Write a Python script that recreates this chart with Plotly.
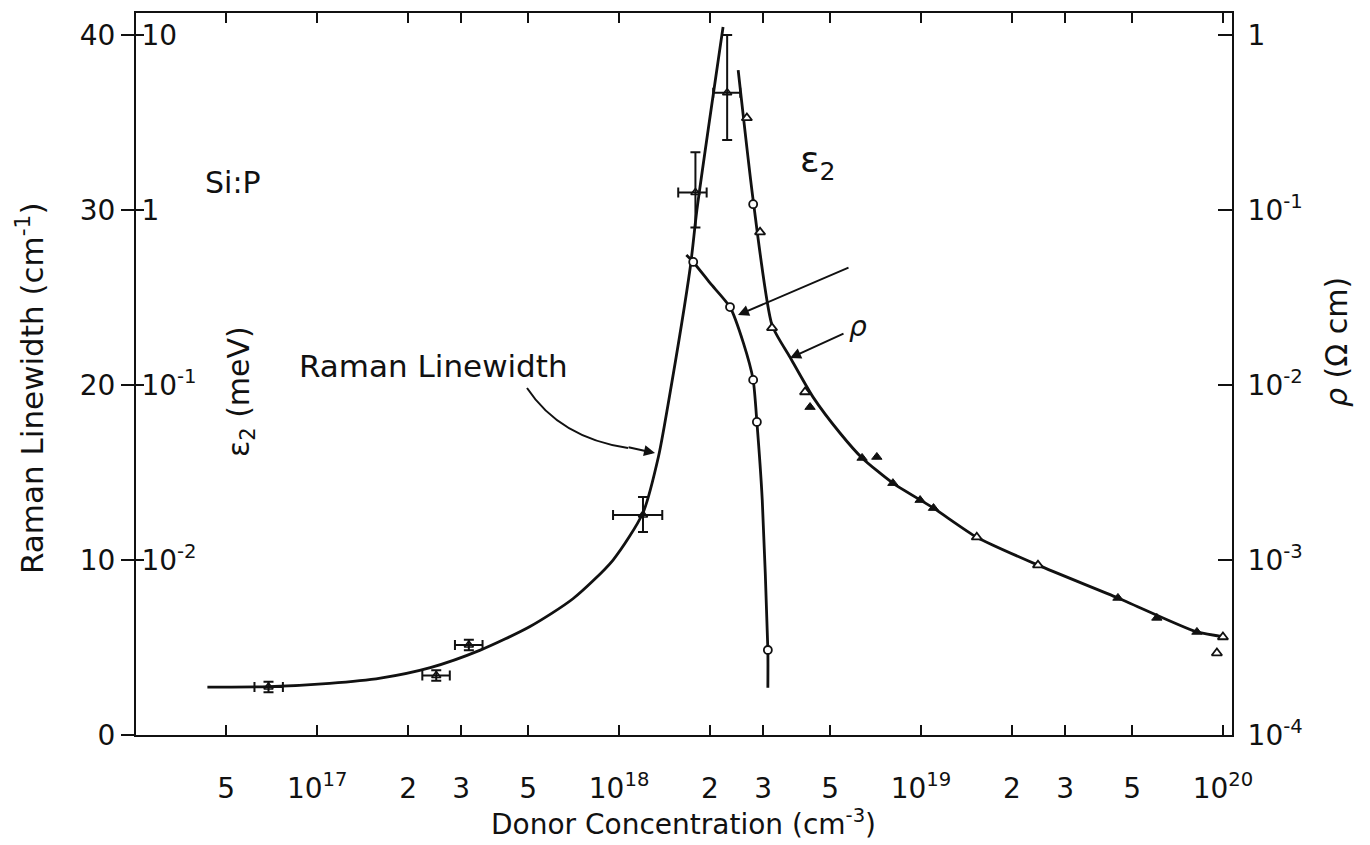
import plotly.graph_objects as go

# ---------------- data ----------------
# Raman linewidth measurements (cm^-1) with error bars
raman_conc = [6.9e16, 2.48e17, 3.18e17, 1.2e18, 1.79e18, 2.28e18]
raman_width = [2.74, 3.4, 5.14, 12.57, 31.0, 36.7]
raman_conc_lo = [6.2e16, 2.23e17, 2.86e17, 9.55e17, 1.57e18, 2.05e18]
raman_conc_hi = [7.7e16, 2.75e17, 3.53e17, 1.39e18, 1.95e18, 2.52e18]
raman_width_lo = [2.45, 3.1, 4.85, 11.6, 29.0, 34.0]
raman_width_hi = [3.05, 3.7, 5.45, 13.6, 33.3, 40.0]

# Raman linewidth guide curve
raman_curve_conc = [4.33e16, 6.89e16, 1.10e17, 1.62e17, 2.37e17, 3.47e17, 5.07e17,
                    7.05e17, 9.55e17, 1.2e18, 1.35e18, 1.45e18, 1.72e18, 1.81e18, 2.21e18]
raman_curve_width = [2.74, 2.76, 2.95, 3.25, 3.85, 4.85, 6.2,
                     7.8, 10.0, 12.7, 15.9, 18.8, 26.7, 30.0, 40.46]

# epsilon_2 (meV)
eps_conc = [1.76e18, 2.33e18, 2.78e18, 2.86e18, 3.11e18]
eps_val = [0.505, 0.279, 0.107, 0.0615, 0.00306]
eps_curve_conc = [1.67e18, 1.76e18, 2.0e18, 2.33e18, 2.58e18, 2.78e18, 2.86e18,
                  2.98e18, 3.11e18, 3.11e18]
eps_curve_val = [0.553, 0.505, 0.383, 0.279, 0.174, 0.107, 0.0615,
                 0.022, 0.00306, 0.00186]

# resistivity rho (Ohm cm)
rho_open_conc = [2.65e18, 2.93e18, 3.21e18, 4.13e18, 1.53e19, 2.44e19, 1.0e20, 9.55e19]
rho_open_val = [0.336, 0.0748, 0.0212, 0.00912, 0.00135, 0.000935, 0.000363, 0.000294]
rho_fill_conc = [4.29e18, 6.38e18, 7.14e18, 8.07e18, 9.93e18, 1.10e19, 4.49e19, 6.04e19, 8.2e19]
rho_fill_val = [0.00748, 0.00383, 0.00388, 0.00275, 0.0022, 0.00198, 0.000607, 0.000467, 0.000388]
rho_circ_conc = [2.78e18]
rho_circ_val = [0.108]
rho_curve_conc = [2.48e18, 2.78e18, 3.21e18, 3.68e18, 4.39e18, 5.39e18, 6.38e18, 8.07e18,
                  1.10e19, 1.53e19, 2.44e19, 4.49e19, 8.2e19, 1.02e20]
rho_curve_val = [0.631, 0.114, 0.0220, 0.01445, 0.00853, 0.00532, 0.00383, 0.00275,
                 0.00198, 0.00135, 0.000935, 0.000607, 0.000388, 0.000363]

# ticks
x_tickvals = [5e16, 1e17, 2e17, 3e17, 5e17, 1e18, 2e18, 3e18, 5e18, 1e19, 2e19, 3e19, 5e19, 1e20]
x_ticktext = ["5", "10<sup>17</sup>", "2", "3", "5", "10<sup>18</sup>", "2", "3", "5",
              "10<sup>19</sup>", "2", "3", "5", "10<sup>20</sup>"]
x_decades = [1e17, 1e18, 1e19, 1e20]
raman_ticks = [0, 10, 20, 30, 40]
eps_tickvals = [1e-3, 1e-2, 1e-1, 1, 10]
eps_ticktext = ["10<sup>-3</sup>", "10<sup>-2</sup>", "10<sup>-1</sup>", "1", "10"]
rho_tickvals = [1e-4, 1e-3, 1e-2, 1e-1, 1]
rho_ticktext = ["10<sup>-4</sup>", "10<sup>-3</sup>", "10<sup>-2</sup>", "10<sup>-1</sup>", "1"]

# ---------------- figure ----------------
INK = "#111111"
FONT = "DejaVu Sans"
LW = 2.8

fig = go.Figure()

# Raman curve and points (y, linear)
fig.add_trace(go.Scatter(x=raman_curve_conc, y=raman_curve_width, mode="lines",
                         line=dict(color=INK, width=LW, shape="spline", smoothing=0.7),
                         yaxis="y", hoverinfo="skip"))
fig.add_trace(go.Scatter(
    x=raman_conc, y=raman_width, mode="markers",
    marker=dict(symbol="triangle-up-open", size=8, color=INK, line=dict(width=1.5)),
    error_x=dict(type="data", symmetric=False,
                 array=[h - c for h, c in zip(raman_conc_hi, raman_conc)],
                 arrayminus=[c - l for l, c in zip(raman_conc_lo, raman_conc)],
                 color=INK, thickness=2, width=5),
    error_y=dict(type="data", symmetric=False,
                 array=[h - c for h, c in zip(raman_width_hi, raman_width)],
                 arrayminus=[c - l for l, c in zip(raman_width_lo, raman_width)],
                 color=INK, thickness=2, width=5),
    yaxis="y"))

# epsilon_2 (y2, log)
fig.add_trace(go.Scatter(x=eps_curve_conc, y=eps_curve_val, mode="lines",
                         line=dict(color=INK, width=LW, shape="spline", smoothing=0.6),
                         yaxis="y2", hoverinfo="skip"))
fig.add_trace(go.Scatter(x=eps_conc, y=eps_val, mode="markers",
                         marker=dict(symbol="circle", size=8, color="white",
                                     line=dict(color=INK, width=1.8)),
                         yaxis="y2"))

# rho (y3, log)
fig.add_trace(go.Scatter(x=rho_curve_conc, y=rho_curve_val, mode="lines",
                         line=dict(color=INK, width=LW, shape="spline", smoothing=0.6),
                         yaxis="y3", hoverinfo="skip"))
fig.add_trace(go.Scatter(x=rho_open_conc, y=rho_open_val, mode="markers",
                         marker=dict(symbol="triangle-up", size=9, color="white",
                                     line=dict(color=INK, width=1.8)),
                         yaxis="y3"))
fig.add_trace(go.Scatter(x=rho_fill_conc, y=rho_fill_val, mode="markers",
                         marker=dict(symbol="triangle-up", size=9, color=INK,
                                     line=dict(color=INK, width=1)),
                         yaxis="y3"))
fig.add_trace(go.Scatter(x=rho_circ_conc, y=rho_circ_val, mode="markers",
                         marker=dict(symbol="circle", size=8, color="white",
                                     line=dict(color=INK, width=1.8)),
                         yaxis="y3"))

L, R, T, B = 136, 138, 13, 110
PW, PH = 1370 - L - R, 845 - T - B


def px(xp):
    return (xp - L) / PW


def py(yp):
    return (845 - B - yp) / PH


tickfont = dict(family=FONT, size=28, color=INK)

fig.update_layout(
    width=1370, height=845,
    margin=dict(l=L, r=R, t=T, b=B, pad=0),
    paper_bgcolor="white", plot_bgcolor="white",
    showlegend=False,
    font=dict(family=FONT, color=INK),
    xaxis=dict(type="log", range=[16.40, 20.03], tickmode="array",
               tickvals=x_tickvals, ticktext=x_ticktext,
               ticks="inside", ticklen=10, tickwidth=2, tickcolor=INK,
               showline=True, linecolor=INK, linewidth=2, mirror="ticks",
               showgrid=False, zeroline=False, tickfont=tickfont,
               ticklabelstandoff=27),
    xaxis2=dict(type="log", range=[16.40, 20.03], overlaying="x", tickmode="array",
                tickvals=x_decades, ticktext=["", "", "", ""],
                ticks="inside", ticklen=16, tickwidth=2, tickcolor=INK,
                showline=False, showgrid=False, zeroline=False, mirror=False,
                anchor="y"),
    yaxis=dict(range=[0, 41.26], tickmode="array", tickvals=raman_ticks,
               ticks="outside", ticklen=13, tickwidth=2, tickcolor=INK,
               showline=True, linecolor=INK, linewidth=2,
               showgrid=False, zeroline=False, tickfont=tickfont),
    yaxis2=dict(type="log", range=[-3, 1.126], overlaying="y", side="left",
                tickmode="array", tickvals=eps_tickvals, ticktext=eps_ticktext,
                ticks="inside", ticklen=8, tickwidth=2, tickcolor=INK,
                ticklabelposition="inside", showline=False,
                showgrid=False, zeroline=False, tickfont=tickfont),
    yaxis3=dict(type="log", range=[-4, 0.126], overlaying="y", side="right",
                tickmode="array", tickvals=rho_tickvals, ticktext=rho_ticktext,
                ticks="inside", ticklen=14, tickwidth=2, tickcolor=INK,
                showline=True, linecolor=INK, linewidth=2,
                showgrid=False, zeroline=False, tickfont=tickfont,
                ticklabelstandoff=8),
)

ann_font = dict(family=FONT, size=30, color=INK)
annotations = [
    # axis titles
    dict(text="Raman Linewidth (cm<sup>-1</sup>)", x=px(30), y=py(388), textangle=-90,
         font=dict(family=FONT, size=31, color=INK)),
    dict(text="ε<sub>2</sub> (meV)", x=px(240), y=py(392), textangle=-90, font=ann_font),
    dict(text="<i>ρ</i> (Ω cm)", x=px(1336), y=py(342), textangle=-90, font=ann_font),
    dict(text="Donor Concentration (cm<sup>-3</sup>)", x=px(683), y=py(822),
         font=dict(family=FONT, size=28, color=INK)),
    # labels in plot
    dict(text="Si:P", x=px(233), y=py(182), font=ann_font),
    dict(text="Raman Linewidth", x=px(433), y=py(366), font=dict(family=FONT, size=31, color=INK)),
    dict(text="ε<sub>2</sub>", x=px(818), y=py(162), font=dict(family=FONT, size=36, color=INK)),
    dict(text="<i>ρ</i>", x=px(858), y=py(326), font=dict(family=FONT, size=28, color=INK)),
]
for a in annotations:
    a.update(xref="paper", yref="paper", showarrow=False, xanchor="center", yanchor="middle")

# arrows
arrows = [
    dict(x=px(738), y=py(315), ax=850 - 738, ay=267 - 315),
    dict(x=px(790), y=py(358), ax=845 - 790, ay=333 - 358),
    dict(x=px(655), y=py(453), ax=-28, ay=-6),
]
for a in arrows:
    a.update(xref="paper", yref="paper", text="", showarrow=True, arrowhead=2,
             arrowsize=1.1, arrowwidth=2, arrowcolor=INK)
fig.update_layout(annotations=annotations + arrows)

# curved pointer for "Raman Linewidth"
fig.add_shape(type="path", xref="paper", yref="paper",
              path=f"M {px(527)},{py(388)} Q {px(560)},{py(438)} {px(628)},{py(448)}",
              line=dict(color=INK, width=2))

fig.write_html("out.html")
